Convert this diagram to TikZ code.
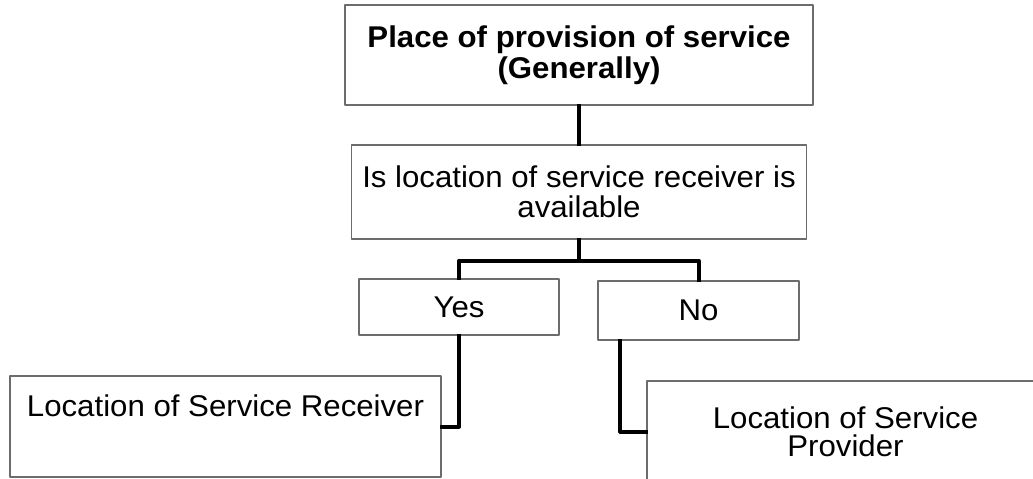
\documentclass[tikz,border=0pt]{standalone}
\usepackage{fontspec}
\setmainfont[FakeStretch=1.04]{Liberation Sans}
\usetikzlibrary{positioning}
\begin{document}
\begin{tikzpicture}[x=1pt,y=-1pt, font=\fontsize{30}{30}\selectfont, line join=round]
	\tikzset{box/.style={draw=gray!85!black, line width=1.2pt, fill=white, inner sep=0pt, align=center},
		link/.style={line width=4pt, line cap=rect}}
	\useasboundingbox (0,0) rectangle (1033,479);
	\node[box, minimum width=468pt, minimum height=100pt, font=\fontsize{30}{31}\selectfont\bfseries] (place) at (579,55) {Place of provision of service\\(Generally)};
	\node[box, minimum width=455pt, minimum height=94pt] (ask) at (579,192) {Is location of service receiver is\\available};
	\node[box, minimum width=200pt, minimum height=56pt] (yes) at (459,307) {Yes};
	\node[box, minimum width=201pt, minimum height=59pt] (no) at (698.5,310.5) {No};
	\node[box, minimum width=431pt, minimum height=101pt, text depth=42pt] (recv) at (225.5,426.5) {Location of Service Receiver};
	\node[box, minimum width=397pt, minimum height=101pt, font=\fontsize{30}{28}\selectfont] (prov) at (845.5,431.5) {Location of Service\\Provider};
	\coordinate (fork) at ([yshift=-21pt]ask.south);
	\draw[link] (place.south)--(ask.north);
	\draw[link] (ask.south)--(fork) -| (yes.north);
	\draw[link] (fork) -| (no.north);
	\draw[link] (yes.south) |- (recv.east);
	\draw[link] ([xshift=23pt]no.south west) |- (prov.west);
\end{tikzpicture}
\end{document}
